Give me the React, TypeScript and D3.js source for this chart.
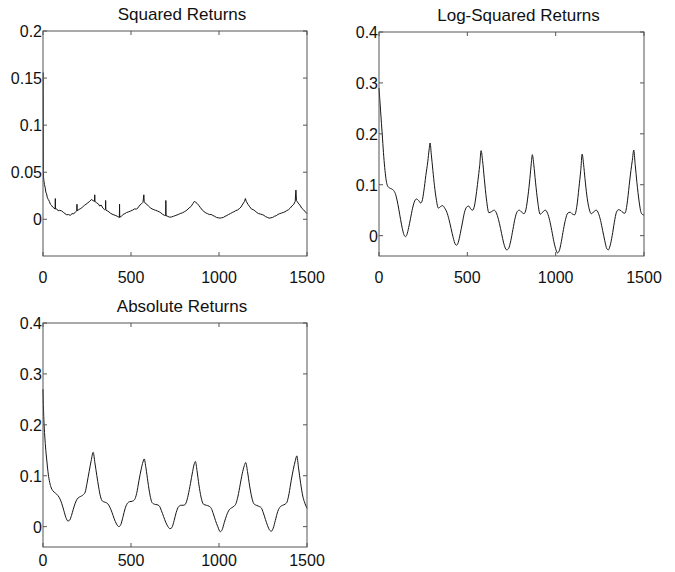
import React from "react";
import * as d3 from "d3";

// lag positions and autocorrelation values
const sqLags = [1, 2, 3, 5, 8, 12, 16, 20, 25, 30, 36, 42, 48, 55, 62, 69, 70, 71, 78, 86, 95, 105, 115, 125, 135, 145, 155, 165, 175, 185, 192, 193, 194, 205, 215, 225, 235, 245, 255, 265, 275, 285, 293, 294, 295, 305, 315, 322, 330, 340, 350, 355, 356, 357, 365, 375, 385, 398, 410, 422, 434, 435, 436, 445, 455, 465, 475, 485, 498, 510, 520, 530, 540, 550, 560, 568, 573, 575, 582, 590, 600, 610, 620, 630, 640, 650, 660, 670, 680, 690, 697, 698, 699, 710, 720, 730, 742, 755, 768, 780, 792, 805, 818, 830, 842, 852, 860, 868, 876, 885, 895, 905, 915, 925, 935, 945, 955, 965, 975, 985, 995, 1005, 1015, 1025, 1035, 1045, 1055, 1065, 1075, 1085, 1095, 1105, 1115, 1125, 1135, 1145, 1150, 1155, 1165, 1175, 1185, 1195, 1205, 1215, 1225, 1235, 1245, 1255, 1265, 1275, 1285, 1295, 1305, 1315, 1325, 1335, 1345, 1355, 1365, 1375, 1385, 1395, 1405, 1415, 1425, 1433, 1437, 1440, 1450, 1460, 1470, 1480, 1490, 1500];
const sqValues = [0.156, 0.052, 0.045, 0.041, 0.037, 0.034, 0.029, 0.027, 0.023, 0.021, 0.019, 0.016, 0.015, 0.013, 0.012, 0.011, 0.022, 0.011, 0.011, 0.009, 0.0095, 0.009, 0.0075, 0.006, 0.0048, 0.005, 0.0042, 0.006, 0.0058, 0.008, 0.009, 0.016, 0.009, 0.0105, 0.0115, 0.013, 0.0148, 0.016, 0.0175, 0.019, 0.021, 0.0198, 0.019, 0.026, 0.019, 0.0175, 0.0162, 0.014, 0.0152, 0.012, 0.0102, 0.011, 0.02, 0.0098, 0.009, 0.0078, 0.0062, 0.005, 0.0042, 0.0032, 0.002, 0.016, 0.0022, 0.003, 0.0052, 0.006, 0.0072, 0.0078, 0.0088, 0.0098, 0.011, 0.0108, 0.0122, 0.015, 0.0165, 0.018, 0.026, 0.019, 0.0168, 0.016, 0.0138, 0.0122, 0.011, 0.0102, 0.0095, 0.0088, 0.008, 0.0068, 0.0052, 0.0042, 0.0038, 0.02, 0.004, 0.003, 0.0022, 0.0025, 0.0032, 0.0042, 0.005, 0.0062, 0.0068, 0.0082, 0.0098, 0.012, 0.0138, 0.0168, 0.019, 0.018, 0.0168, 0.0148, 0.0122, 0.0098, 0.0082, 0.0068, 0.006, 0.005, 0.0052, 0.004, 0.0032, 0.002, 0.0016, 0.0012, 0.0016, 0.002, 0.0032, 0.004, 0.0052, 0.006, 0.0072, 0.008, 0.0092, 0.0098, 0.0112, 0.013, 0.0162, 0.019, 0.022, 0.019, 0.0158, 0.0132, 0.0108, 0.0102, 0.0088, 0.0072, 0.006, 0.0056, 0.005, 0.0042, 0.0028, 0.002, 0.0012, 0.0016, 0.002, 0.0032, 0.0038, 0.0052, 0.006, 0.0066, 0.0072, 0.008, 0.0092, 0.0102, 0.012, 0.0142, 0.016, 0.019, 0.031, 0.02, 0.0172, 0.015, 0.0118, 0.0102, 0.008, 0.006];

const logSqLags = [0, 4, 9, 14, 20, 27, 34, 41, 48, 58, 70, 82, 92, 102, 112, 122, 132, 141, 150, 158, 168, 178, 190, 202, 212, 224, 236, 244, 254, 265, 276, 284, 289, 296, 305, 314, 324, 336, 348, 360, 372, 384, 396, 408, 420, 432, 438, 448, 460, 472, 484, 496, 508, 520, 530, 540, 550, 560, 570, 578, 586, 596, 608, 622, 636, 652, 664, 676, 688, 700, 712, 723, 734, 746, 758, 770, 782, 794, 808, 821, 832, 844, 854, 862, 868, 876, 886, 898, 912, 926, 942, 954, 966, 978, 990, 1002, 1010, 1020, 1032, 1044, 1056, 1068, 1082, 1096, 1108, 1120, 1132, 1142, 1150, 1158, 1166, 1176, 1188, 1202, 1216, 1230, 1242, 1254, 1266, 1278, 1290, 1298, 1308, 1320, 1332, 1344, 1356, 1370, 1382, 1392, 1404, 1416, 1426, 1434, 1442, 1450, 1460, 1472, 1485, 1500];
const logSqValues = [0.29, 0.27, 0.245, 0.22, 0.19, 0.155, 0.128, 0.108, 0.098, 0.094, 0.092, 0.089, 0.083, 0.07, 0.052, 0.032, 0.014, 0.002, -0.002, 0.002, 0.016, 0.033, 0.054, 0.068, 0.072, 0.069, 0.064, 0.068, 0.088, 0.118, 0.145, 0.17, 0.182, 0.16, 0.128, 0.098, 0.072, 0.054, 0.057, 0.059, 0.054, 0.046, 0.032, 0.014, -0.004, -0.017, -0.019, -0.014, 0.004, 0.025, 0.046, 0.056, 0.058, 0.052, 0.05, 0.058, 0.08, 0.108, 0.138, 0.167, 0.148, 0.112, 0.072, 0.045, 0.047, 0.05, 0.045, 0.032, 0.014, -0.006, -0.022, -0.028, -0.025, -0.01, 0.012, 0.034, 0.047, 0.05, 0.046, 0.043, 0.052, 0.08, 0.112, 0.142, 0.159, 0.14, 0.105, 0.068, 0.042, 0.046, 0.05, 0.044, 0.03, 0.01, -0.012, -0.028, -0.034, -0.03, -0.012, 0.012, 0.032, 0.044, 0.046, 0.042, 0.041, 0.058, 0.095, 0.128, 0.16, 0.14, 0.112, 0.08, 0.055, 0.043, 0.047, 0.05, 0.044, 0.03, 0.01, -0.01, -0.026, -0.028, -0.02, 0.0, 0.026, 0.046, 0.051, 0.049, 0.045, 0.044, 0.062, 0.098, 0.128, 0.148, 0.168, 0.14, 0.104, 0.068, 0.044, 0.04];

const absLags = [0, 2, 5, 10, 16, 23, 30, 38, 47, 57, 70, 85, 97, 107, 118, 130, 142, 152, 162, 172, 183, 194, 206, 218, 230, 240, 250, 262, 274, 285, 295, 306, 316, 326, 338, 352, 368, 380, 392, 404, 418, 431, 442, 455, 466, 478, 492, 508, 520, 532, 545, 558, 568, 575, 585, 596, 608, 620, 634, 648, 660, 672, 685, 698, 710, 721, 732, 745, 757, 770, 785, 800, 812, 825, 838, 850, 860, 866, 875, 886, 898, 912, 928, 944, 956, 968, 980, 993, 1007, 1018, 1030, 1043, 1058, 1072, 1085, 1096, 1108, 1120, 1132, 1144, 1152, 1162, 1174, 1186, 1198, 1212, 1226, 1240, 1252, 1264, 1276, 1288, 1298, 1308, 1320, 1334, 1348, 1362, 1375, 1386, 1398, 1410, 1422, 1434, 1442, 1452, 1464, 1476, 1488, 1500];
const absValues = [0.27, 0.24, 0.21, 0.178, 0.15, 0.125, 0.103, 0.087, 0.076, 0.07, 0.066, 0.061, 0.054, 0.045, 0.032, 0.018, 0.011, 0.013, 0.022, 0.034, 0.046, 0.054, 0.058, 0.06, 0.063, 0.068, 0.085, 0.108, 0.13, 0.146, 0.125, 0.1, 0.078, 0.06, 0.05, 0.048, 0.045, 0.038, 0.028, 0.016, 0.005, 0.0, 0.004, 0.02, 0.035, 0.045, 0.049, 0.05, 0.053, 0.065, 0.09, 0.113, 0.127, 0.133, 0.115, 0.088, 0.062, 0.047, 0.044, 0.043, 0.041, 0.032, 0.02, 0.008, 0.0, -0.004, -0.002, 0.012, 0.028, 0.039, 0.042, 0.042, 0.046, 0.062, 0.085, 0.108, 0.124, 0.128, 0.11, 0.082, 0.058, 0.044, 0.042, 0.04, 0.036, 0.025, 0.012, 0.0, -0.01, -0.006, 0.008, 0.022, 0.033, 0.037, 0.04, 0.045, 0.06, 0.082, 0.104, 0.12, 0.126, 0.108, 0.08, 0.058, 0.045, 0.042, 0.04, 0.037, 0.027, 0.014, 0.002, -0.007, -0.009, -0.003, 0.012, 0.03, 0.039, 0.042, 0.044, 0.048, 0.065, 0.09, 0.112, 0.13, 0.139, 0.115, 0.085, 0.06, 0.046, 0.036];

const xTicks = [0, 500, 1000, 1500];
const sqTicks = [0, 0.05, 0.1, 0.15, 0.2];
const retTicks = [0, 0.1, 0.2, 0.3, 0.4];

const FONT = "'Liberation Sans', Arial, Helvetica, sans-serif";

type PanelProps = {
  title: string;
  lags: number[];
  values: number[];
  yDomain: [number, number];
  yTicks: number[];
  left: number;
  right: number;
  top: number;
  bottom: number;
  labelGap: number;
  smooth: boolean;
};

function Panel(props: PanelProps) {
  const { title, lags, values, yDomain, yTicks, left, right, top, bottom, labelGap, smooth } = props;
  const x = d3.scaleLinear().domain([0, 1500]).range([left, right]);
  const y = d3.scaleLinear().domain(yDomain).range([bottom, top]);
  const pts = lags.map((l, i) => [l, values[i]] as [number, number]);
  const line = d3
    .line<[number, number]>()
    .x((d) => x(d[0]))
    .y((d) => y(d[1]))
    .curve(smooth ? d3.curveMonotoneX : d3.curveLinear);
  const tl = 4;
  const axisColor = "#555";
  return (
    <g>
      <text
        x={(left + right) / 2 + 7}
        y={top - 11}
        textAnchor="middle"
        fontSize={17}
        fontFamily={FONT}
        fill="#111"
      >
        {title}
      </text>
      <path d={line(pts) || ""} fill="none" stroke="#151515" strokeWidth={1} />
      <rect
        x={left}
        y={top}
        width={right - left}
        height={bottom - top}
        fill="none"
        stroke={axisColor}
        strokeWidth={1}
      />
      {xTicks.map((t) => (
        <g key={"x" + t}>
          <line x1={x(t)} x2={x(t)} y1={bottom} y2={bottom - tl} stroke={axisColor} />
          <line x1={x(t)} x2={x(t)} y1={top} y2={top + tl} stroke={axisColor} />
          <text
            x={x(t)}
            y={bottom + labelGap}
            textAnchor="middle"
            fontSize={16}
            fontFamily={FONT}
            fill="#111"
          >
            {t}
          </text>
        </g>
      ))}
      {yTicks.map((t) => (
        <g key={"y" + t}>
          <line x1={left} x2={left + tl} y1={y(t)} y2={y(t)} stroke={axisColor} />
          <line x1={right} x2={right - tl} y1={y(t)} y2={y(t)} stroke={axisColor} />
          <text
            x={left - 1}
            y={y(t) + 6}
            textAnchor="end"
            fontSize={16}
            fontFamily={FONT}
            fill="#111"
          >
            {String(t)}
          </text>
        </g>
      ))}
    </g>
  );
}

export default function App() {
  return (
    <svg
      width={675}
      height={572}
      style={{ position: "absolute", left: 0, top: 0, background: "#fff" }}
    >
      <rect width={675} height={572} fill="#fff" />
      <Panel
        title="Squared Returns"
        lags={sqLags}
        values={sqValues}
        yDomain={[-0.039, 0.2]}
        yTicks={sqTicks}
        left={43}
        right={307}
        top={31}
        bottom={256}
        labelGap={27}
        smooth={false}
      />
      <Panel
        title="Log-Squared Returns"
        lags={logSqLags}
        values={logSqValues}
        yDomain={[-0.04, 0.4]}
        yTicks={retTicks}
        left={379}
        right={644}
        top={32}
        bottom={256}
        labelGap={27}
        smooth={true}
      />
      <Panel
        title="Absolute Returns"
        lags={absLags}
        values={absValues}
        yDomain={[-0.04, 0.4]}
        yTicks={retTicks}
        left={43}
        right={307}
        top={323}
        bottom={547}
        labelGap={19}
        smooth={true}
      />
    </svg>
  );
}
